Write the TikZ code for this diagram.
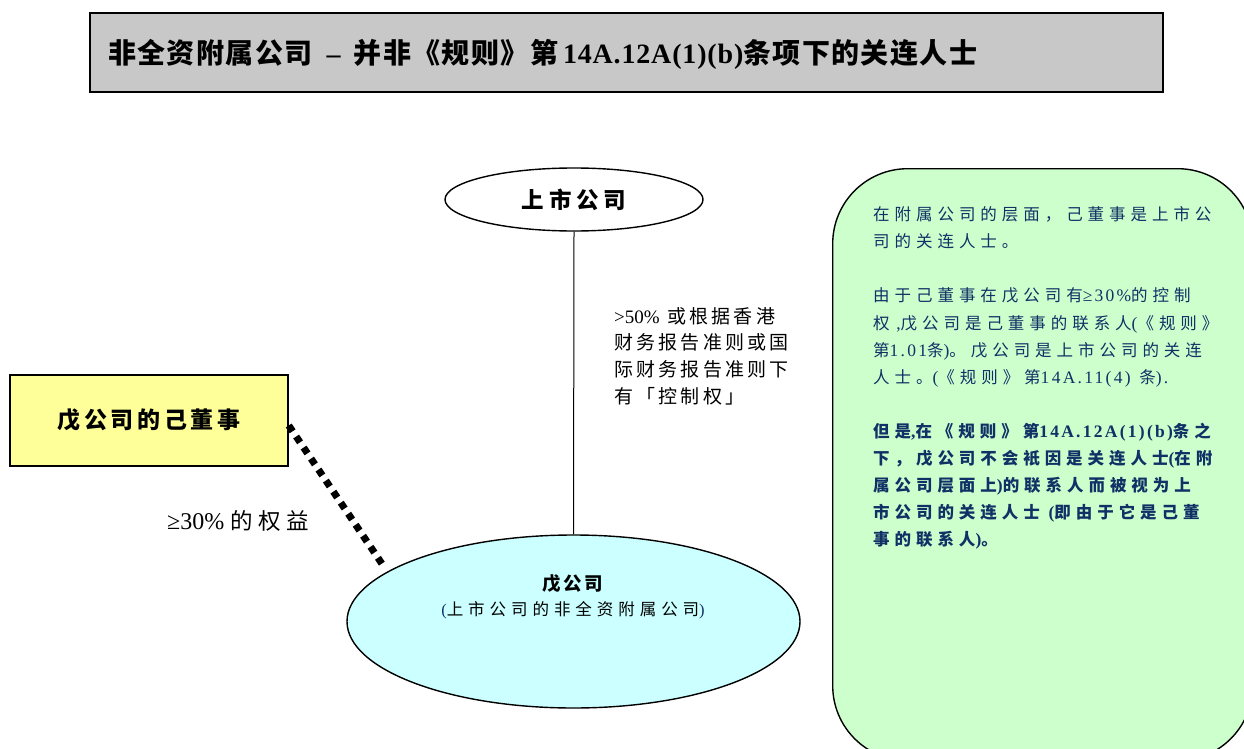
\documentclass[tikz,border=0pt]{standalone}
\usepackage{fontspec}
\setmainfont{Noto Sans CJK SC}
\newfontfamily\latplain{Liberation Serif}
\newfontfamily\latnote{Liberation Serif}[Scale=1.06, LetterSpace=13]
\newfontfamily\lattitle{Liberation Serif}[LetterSpace=3]
\let\latcur\latplain
\newcommand\lat[1]{{\latcur #1}}
\usetikzlibrary{shapes.geometric}
\definecolor{titlegray}{RGB}{200,200,200}
\definecolor{diryellow}{RGB}{255,255,153}
\definecolor{subcyan}{RGB}{204,255,255}
\definecolor{notegreen}{RGB}{204,255,204}
\definecolor{notenavy}{RGB}{16,48,102}
\begin{document}
\begin{tikzpicture}[x=1pt,y=-1pt,
  frame/.style={draw, line width=1.4pt, inner sep=0pt},
  plain/.style={inner sep=0pt, align=left},
]
\useasboundingbox (0,0) rectangle (1244,749);
% title
\node[frame, fill=titlegray, minimum width=1073pt, minimum height=79pt] (title) at (626.5,52.5) {};
\node[plain, anchor=west, font=\fontsize{28}{32}\selectfont\bfseries\addfontfeature{LetterSpace=5}\let\latcur\lattitle] (titletext) at (108,54)
  {非全资附属公司\hspace{14pt}\lat{–}\hspace{13pt}并非《规则》第\hspace{5pt}\lat{14A.12A(1)(b)}条项下的关连人士};
% note box
\node[frame, fill=notegreen, rounded corners=75pt, minimum width=420pt, minimum height=592pt, anchor=north west] (note) at (832,168) {};
\node[plain, anchor=north west, text=notenavy, font=\fontsize{16.5}{27.1}\selectfont\addfontfeature{LetterSpace=30}\let\latcur\latnote] (notetext) at (873,206.5)
  {在附属公司的层面，己董事是上市公\\
   司的关连人士。\\[27.1pt]
   由于己董事在戊公司有\lat{≥30\%}的控制\\
   权\lat{ ,}戊公司是己董事的联系人\lat{(}《规则》\\
   第\lat{1.01}条\lat{)}。戊公司是上市公司的关连\\
   人士。\lat{(}《规则》第\lat{14A.11(4)} 条\lat{).}\\[27.1pt]
   {\bfseries 但是\lat{,}在《规则》第\lat{14A.12A(1)(b)}条之}\\
   {\bfseries 下，戊公司不会衹因是关连人士\lat{(}在附}\\
   {\bfseries 属公司层面上\lat{)}的联系人而被视为上}\\
   {\bfseries 市公司的关连人士 \lat{(}即由于它是己董}\\
   {\bfseries 事的联系人\lat{)}。}};
% listed company
\node[frame, ellipse, fill=white, minimum width=258pt, minimum height=63pt,
  font=\fontsize{22.5}{26}\selectfont\bfseries\addfontfeature{LetterSpace=21}] (ls) at (574,199.5) {上市公司};
% subsidiary
\node[frame, ellipse, fill=subcyan, minimum width=453pt, minimum height=173pt] (sub) at (573.5,621.5) {};
\draw[line width=1pt] (ls.south) -- (sub.north);
\node[plain, font=\fontsize{18.5}{22}\selectfont\bfseries\addfontfeature{LetterSpace=14}] (subname) at (573,583.5) {戊公司};
\node[plain, font=\fontsize{16.5}{20}\selectfont\addfontfeature{LetterSpace=30}] (subdesc) at (573,610.5)
  {\lat{\color{notenavy}(}上市公司的非全资附属公司\lat{\color{notenavy})}};
% control label
\node[plain, anchor=north west, font=\fontsize{19}{26.7}\selectfont\addfontfeature{LetterSpace=17}] (ctl) at (614,307)
  {\lat{>50\%} 或根据香港\\财务报告准则或国\\际财务报告准则下\\有「控制权」};
% director
\node[frame, fill=diryellow, minimum width=278pt, minimum height=91pt,
  font=\fontsize{23}{27}\selectfont\bfseries\addfontfeature{LetterSpace=16}] (dir) at (149,420.5) {戊公司的己董事};
\draw[line width=7pt, dash pattern=on 7pt off 6.3pt, shorten >=7pt] ([yshift=-5pt]dir.east) -- (sub.165);
\node[plain, anchor=west, font=\fontsize{22.5}{26}\selectfont\addfontfeature{LetterSpace=24}] (pct) at (167,521)
  {\lat{\fontsize{24}{26}\selectfont ≥30\%}\hspace{6pt}的权益};
\end{tikzpicture}
\end{document}
